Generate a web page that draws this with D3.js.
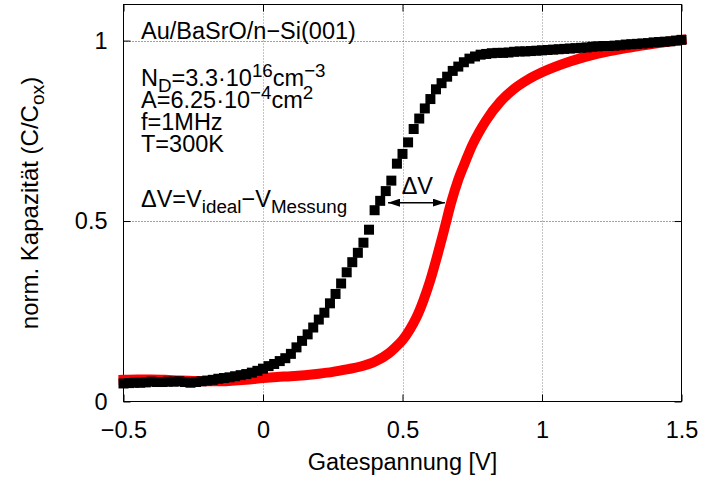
<!DOCTYPE html>
<html><head><meta charset="utf-8">
<script src="https://cdn.jsdelivr.net/npm/d3@7"></script>
<style>
body{margin:0;background:#fff}
svg{display:block}
text{font-family:"Liberation Sans",Arial,Helvetica,sans-serif;fill:#000}
</style>
</head><body>
<svg id="c" width="702" height="480"></svg>
<script>
// ---- data ----
const xTicks = [-0.5, 0, 0.5, 1, 1.5];
const xTickLabels = ["\u22120.5", "0", "0.5", "1", "1.5"];
const yTicks = [0, 0.5, 1];
const yTickLabels = ["0", "0.5", "1"];

// measured C-V curve (black squares)
const measVoltage = [-0.5,-0.48,-0.46,-0.44,-0.42,-0.4,-0.38,-0.36,-0.34,-0.32,-0.3,-0.28,-0.26,-0.24,-0.22,-0.2,-0.18,-0.16,-0.14,-0.12,-0.1,-0.08,-0.06,-0.04,-0.02,
  0,0.02,0.04,0.06,0.08,0.1,0.12,0.14,0.16,0.18,0.2,0.22,0.24,0.26,0.28,0.3,0.32,0.34,0.36,0.38,0.4,0.42,0.44,0.46,0.48,
  0.5,0.52,0.54,0.56,0.58,0.6,0.62,0.64,0.66,0.68,0.7,0.72,0.74,0.76,0.78,0.8,0.82,0.84,0.86,0.88,0.9,0.92,0.94,0.96,0.98,
  1,1.02,1.04,1.06,1.08,1.1,1.12,1.14,1.16,1.18,1.2,1.22,1.24,1.26,1.28,1.3,1.32,1.34,1.36,1.38,1.4,1.42,1.44,1.46,1.48,1.5];
const measCap = [0.050,0.051,0.052,0.052,0.053,0.055,0.054,0.054,0.055,0.055,0.056,0.054,0.052,0.054,0.056,0.058,0.060,0.063,0.065,0.067,0.070,0.073,0.076,0.080,0.085,
  0.091,0.098,0.104,0.112,0.120,0.132,0.150,0.168,0.186,0.205,0.227,0.246,0.272,0.298,0.327,0.358,0.386,0.412,0.440,0.476,0.530,0.556,0.583,0.612,0.659,
  0.686,0.718,0.755,0.784,0.812,0.838,0.865,0.882,0.900,0.916,0.928,0.940,0.950,0.956,0.961,0.963,0.965,0.966,0.966,0.967,0.969,0.970,0.970,0.971,0.972,
  0.973,0.974,0.975,0.976,0.977,0.978,0.979,0.980,0.981,0.983,0.984,0.985,0.985,0.986,0.987,0.989,0.990,0.991,0.992,0.993,0.995,0.996,0.997,0.998,1.000,1.002];

// ideal C-V curve (red)
const idealVoltage = [-0.5,-0.45,-0.4,-0.35,-0.3,-0.25,-0.2,-0.15,-0.1,-0.05,0,0.05,0.1,0.15,0.2,0.25,0.3,0.35,0.4,0.45,0.475,
  0.5,0.525,0.55,0.575,0.6,0.625,0.65,0.675,0.7,0.725,0.75,0.775,0.8,0.85,0.9,0.95,1.0,1.1,1.2,1.3,1.4,1.5];
const idealCap = [0.060,0.061,0.061,0.060,0.058,0.057,0.056,0.056,0.058,0.061,0.065,0.068,0.070,0.073,0.077,0.082,0.089,0.097,0.110,0.133,0.150,
  0.170,0.198,0.233,0.280,0.337,0.405,0.478,0.553,0.615,0.664,0.710,0.747,0.779,0.830,0.866,0.892,0.912,0.942,0.964,0.979,0.991,1.002];

// Delta V arrow (data units)
const arrowFromV = 0.448, arrowToV = 0.652, arrowC = 0.551;

// ---- drawing ----
const svg = d3.select("#c");
const FS = 23.5;
const x = d3.scaleLinear().domain([-0.5, 1.5]).range([123.5, 681.5]);
const y = d3.scaleLinear().domain([0, 1.1]).range([401.5, 4.5]);

// grid
const grid = svg.append("g");
grid.selectAll("line.gx").data(xTicks.filter(d => d > -0.5 && d < 1.5)).join("line")
  .attr("x1", d => Math.round(x(d)) + 0.5).attr("x2", d => Math.round(x(d)) + 0.5)
  .attr("y1", y(0)).attr("y2", y(1.1))
  .attr("stroke", "#888").attr("stroke-width", 1).attr("stroke-dasharray", "1,2");
grid.selectAll("line.gy").data(yTicks.filter(d => d > 0)).join("line")
  .attr("y1", d => Math.round(y(d)) + 0.5).attr("y2", d => Math.round(y(d)) + 0.5)
  .attr("x1", x(-0.5)).attr("x2", x(1.5))
  .attr("stroke", "#444").attr("stroke-width", 1).attr("stroke-dasharray", "1,2");

// axes (ticks inside, mirrored)
const axB = svg.append("g").attr("transform", `translate(0,${y(0)})`)
  .call(d3.axisBottom(x).tickValues(xTicks).tickSize(-7).tickPadding(0).tickFormat((d, i) => xTickLabels[i]));
const axL = svg.append("g").attr("transform", `translate(${x(-0.5)},0)`)
  .call(d3.axisLeft(y).tickValues(yTicks).tickSize(-7).tickPadding(16).tickFormat((d, i) => yTickLabels[i]));
const axT = svg.append("g").attr("transform", `translate(0,${y(1.1)})`)
  .call(d3.axisTop(x).tickValues(xTicks).tickSize(-7).tickFormat(""));
const axR = svg.append("g").attr("transform", `translate(${x(1.5)},0)`)
  .call(d3.axisRight(y).tickValues(yTicks).tickSize(-7).tickFormat(""));
[axB, axL, axT, axR].forEach(a => {
  a.select(".domain").remove();
  a.selectAll(".tick line").attr("stroke", "#000");
  a.selectAll("text").attr("font-size", FS).attr("font-family", "Liberation Sans, Arial, sans-serif").attr("fill", "#000");
});
axB.selectAll(".tick text").attr("y", 36).attr("dy", 0);

// frame
svg.append("rect").attr("x", x(-0.5)).attr("y", y(1.1))
  .attr("width", x(1.5) - x(-0.5)).attr("height", y(0) - y(1.1))
  .attr("fill", "none").attr("stroke", "#000").attr("stroke-width", 1);

// ideal curve (red)
const idealData = idealVoltage.map((v, i) => [v, idealCap[i]]);
svg.append("path").datum(idealData)
  .attr("d", d3.line().x(d => x(d[0])).y(d => y(d[1])).curve(d3.curveMonotoneX))
  .attr("fill", "none").attr("stroke", "#ff0000").attr("stroke-width", 10)
  .attr("stroke-linecap", "square").attr("stroke-linejoin", "miter");

// measured curve (black squares)
const S = 10;
const measData = measVoltage.map((v, i) => [v, measCap[i]]);
svg.append("g").selectAll("rect").data(measData).join("rect")
  .attr("x", d => x(d[0]) - S / 2).attr("y", d => y(d[1]) - S / 2)
  .attr("width", S).attr("height", S).attr("fill", "#000");

// arrow
const defs = svg.append("defs");
["s", "e"].forEach(k => {
  defs.append("marker").attr("id", "ah" + k).attr("viewBox", "0 0 12 8")
    .attr("refX", 12).attr("refY", 4).attr("markerWidth", 12).attr("markerHeight", 8)
    .attr("markerUnits", "userSpaceOnUse").attr("orient", k === "e" ? "auto" : "auto-start-reverse")
    .append("path").attr("d", "M0,0L12,4L0,8Z").attr("fill", "#000");
});
svg.append("line")
  .attr("x1", x(arrowFromV)).attr("x2", x(arrowToV))
  .attr("y1", y(arrowC)).attr("y2", y(arrowC))
  .attr("stroke", "#000").attr("stroke-width", 1.5)
  .attr("marker-start", "url(#ahs)").attr("marker-end", "url(#ahe)");
svg.append("text").attr("x", x(0.497)).attr("y", 194).attr("font-size", FS).text("\u0394V");

// rich text helper
function rich(parent, px, py, parts, size) {
  const t = parent.append("text").attr("x", px).attr("y", py).attr("font-size", size);
  let cur = 0;
  parts.forEach(p => {
    const off = p.sub ? 0.26 * size : p.sup ? -0.4 * size : 0;
    t.append("tspan").attr("dy", off - cur)
      .attr("font-size", (p.sub || p.sup) ? size * 0.8 : size).text(p.t);
    cur = off;
  });
  return t;
}

const ann = svg.append("g");
const AF = 23.5;
rich(ann, 141, 39, [{t: "Au/BaSrO/n\u2212Si(001)"}], AF);
rich(ann, 141, 86, [{t: "N"}, {t: "D", sub: 1}, {t: "=3.3\u00b710"}, {t: "16", sup: 1}, {t: "cm"}, {t: "\u22123", sup: 1}], AF);
rich(ann, 141, 108, [{t: "A=6.25\u00b710"}, {t: "\u22124", sup: 1}, {t: "cm"}, {t: "2", sup: 1}], AF);
rich(ann, 141, 130, [{t: "f=1MHz"}], AF);
rich(ann, 141, 152, [{t: "T=300K"}], AF);
rich(ann, 141, 207, [{t: "\u0394V=V"}, {t: "ideal", sub: 1}, {t: "\u2212V"}, {t: "Messung", sub: 1}], AF);

// axis titles
svg.append("text").attr("x", (x(-0.5) + x(1.5)) / 2).attr("y", 470)
  .attr("text-anchor", "middle").attr("font-size", FS).text("Gatespannung [V]");
const yl = svg.append("g").attr("transform", `translate(38,${(y(0) + y(1.1)) / 2}) rotate(-90)`);
rich(yl, 0, 0, [{t: "norm. Kapazit\u00e4t (C/C"}, {t: "ox", sub: 1}, {t: ")"}], 24).attr("text-anchor", "middle");
</script>
</body></html>
